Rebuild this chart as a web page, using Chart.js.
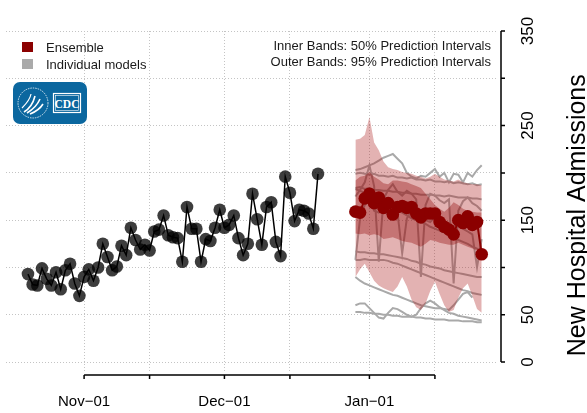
<!DOCTYPE html>
<html>
<head>
<meta charset="utf-8">
<script src="https://cdn.jsdelivr.net/npm/chart.js@4.4.0/dist/chart.umd.min.js"></script>
<style>
  html, body { margin: 0; padding: 0; background: #fff; }
  #wrap { position: relative; width: 587px; height: 413px; font-family: "Liberation Sans", Arial, sans-serif; }
  #c { position: absolute; left: 0; top: 0; }
  .key { position: absolute; left: 22px; width: 11px; height: 10px; }
  .lab { position: absolute; left: 46px; font-size: 13px; line-height: 13px; color: #1a1a1a; white-space: nowrap; }
  #note { position: absolute; right: 96px; top: 38px; font-size: 13px; line-height: 16px; color: #1a1a1a; text-align: right; white-space: nowrap; }
  #logo { position: absolute; left: 13px; top: 82px; width: 74px; height: 42px; border-radius: 7px; background: #0b679f; }
</style>
</head>
<body>
<div id="wrap">
  <canvas id="c" width="587" height="413"></canvas>
  <div class="key" style="top:42px;background:#8b0000"></div>
  <div class="lab" style="top:41px">Ensemble</div>
  <div class="key" style="top:59px;background:#aaaaaa"></div>
  <div class="lab" style="top:58px">Individual models</div>
  <div id="note">Inner Bands: 50% Prediction Intervals<br>Outer Bands: 95% Prediction Intervals</div>
  <div id="logo">
    <svg width="74" height="42" viewBox="0 0 74 42">
      <circle cx="20" cy="21" r="15" fill="none" stroke="#fff" stroke-width="0.8" stroke-dasharray="1.5 1"/>
      <path d="M11 30 C16 27 20 22 22 14" fill="none" stroke="#fff" stroke-width="1.6"/>
      <path d="M14 31 C19 28 24 24 27 17" fill="none" stroke="#fff" stroke-width="1.6"/>
      <path d="M17 32 C22 30 27 27 30 22" fill="none" stroke="#fff" stroke-width="1.6"/>
      <path d="M9 26 C13 22 17 18 18 12" fill="none" stroke="#fff" stroke-width="1.2"/>
      <rect x="40.5" y="11.5" width="27" height="19" fill="none" stroke="#fff" stroke-width="1.2"/>
      <rect x="42.5" y="13.5" width="23" height="15" fill="none" stroke="#fff" stroke-width="0.6"/>
      <text x="54" y="25.5" text-anchor="middle" fill="#fff" font-family="'Liberation Serif', serif" font-weight="bold" font-size="11.5">CDC</text>
    </svg>
  </div>
</div>
<script>
// ── DATA ──────────────────────────────────────────────────────
const obsStart = '2020-10-20';
const obsValues = [93, 82, 81, 99, 88, 81, 95, 77, 97, 104, 83, 70, 90, 98, 86, 100,
  125, 111, 97, 101, 123, 113, 142, 129, 119, 124, 118, 138, 140, 155, 134, 132,
  131, 106, 164, 141, 141, 106, 130, 128, 142, 161, 142, 145, 155, 131, 113, 125,
  178, 151, 124, 164, 169, 127, 112, 196, 179, 149, 161, 160, 157, 141, 199];

const fcStart = '2020-12-29';
const ensValues = [159, 158, 173, 178, 168, 174, 163, 168, 156, 164, 165, 163, 164, 157,
  153, 157, 157, 157, 148, 143, 140, 135, 150, 147, 154, 145, 148, 114];

const outerLo = [90, 98, 104, 95, 86, 81, 78, 76, 74, 80, 90, 80, 66, 58, 55, 62, 75, 85,
  72, 60, 53, 55, 68, 78, 83, 70, 56, 52];
const outerHi = [235, 236, 240, 259, 232, 224, 212, 206, 204, 203, 201, 200, 199, 197, 196,
  194, 196, 199, 196, 193, 192, 191, 193, 190, 189, 188, 188, 187];
const innerLo = [136, 135, 136, 134, 135, 134, 130, 131, 132, 130, 128, 127, 126, 124, 122,
  125, 129, 128, 126, 125, 124, 124, 126, 124, 122, 120, 118, 117];
const innerHi = [192, 196, 197, 201, 196, 193, 189, 188, 192, 192, 191, 190, 188, 186, 184,
  178, 172, 166, 162, 159, 163, 169, 166, 162, 160, 159, 158, 158];

// individual model trajectories (same dates as the ensemble)
const model1 = [203, 204, 206, 208, 210, 213, 216, 218, 220, 215, 210, 200, 196, 194, 197,
  196, 200, 204, 196, 200, 190, 199, 198, 190, 200, 196, 203, 208];
const model2 = [199, 200, 199, 198, 199, 197, 197, 196, 197, 195, 195, 194, 195, 193, 193,
  192, 193, 191, 191, 190, 191, 189, 190, 189, 188, 189, 187, 188];
const model3 = [184, 185, 183, 184, 182, 182, 181, 181, 180, 180, 179, 179, 178, 178, 177,
  177, 177, 176, 176, 175, 176, 175, 174, 174, 174, 173, 173, 172];
const model4 = [183, 181, 179, 176, 174, 171, 168, 166, 163, 160, 158, 155, 152, 150, 148,
  146, 143, 141, 139, 137, 134, 132, 129, 127, 125, 122, 120, 117];
const model5 = [117, 116, 116, 115, 115, 114, 114, 113, 112, 111, 110, 109, 107, 106, 104,
  103, 101, 100, 99, 97, 96, 95, 94, 93, 92, 91, 90, 90];
const model6 = [108, 108, 109, 108, 108, 108, 108, 107, 105, 104, 102, 100, 98, 96, 94,
  92, 90, 88, 86, 84, 82, 80, 78, 76, 75, 73, 72, 71];
const model7 = [90, 86, 83, 81, 79, 77, 75, 73, 71, 70, 68, 66, 64, 62, 60, 59, 58, 57,
  57, 56, 55, 60, 66, 72, 74, 68, null, null];
const model8 = [60, 62, 62, 57, 52, 47, 46, 52, 57, 56, 53, 50, 48, 50, 57, 62, 65, 62,
  58, 55, 52, 51, 49, 48, 47, 46, 45, 44];
const model9 = [53, 53, 52, 52, 51, 51, 50, 50, 49, 49, 48, 48, 48, 47, 47, 46, 46, 45,
  45, 45, 44, 44, 44, 43, 43, 43, 42, 42];
const model10 = [175, 182, 190, 208, 186, 106, 172, 182, 188, 180, 176, 181, 178, 172, 90,
  166, 178, 176, 171, 168, 172, 83, 160, 170, 174, 168, 165, 160];
const model11 = [108, 152, 166, 172, 160, 158, 162, 155, 160, 158, 115, 152, 160, 156, 152,
  150, 148, 153, 150, 146, 141, 143, 147, 141, 138, 135, 100, 130];
const models = [model1, model2, model3, model4, model5, model6, model7, model8, model9, model10, model11];

const xTickDates = ['2020-11-01', '2020-11-15', '2020-12-01', '2020-12-15', '2021-01-01', '2021-01-15'];
const xTickLabels = ['Nov\u221201', '', 'Dec\u221201', '', 'Jan\u221201', ''];
const yTicks = [0, 50, 100, 150, 200, 250, 300, 350];
const yTickLabels = ['0', '50', '', '150', '', '250', '', '350'];

// ── HELPERS ───────────────────────────────────────────────────
const DAY = 86400000;
const origin = Date.parse('2020-11-01');
const dayOf = s => (Date.parse(s) - origin) / DAY;
const series = (start, vals) => vals.map((v, i) => ({ x: dayOf(start) + i, y: v }));
const xTickDays = xTickDates.map(dayOf);
const font = '"Liberation Sans", Arial, sans-serif';

// R-style axes drawn off the plot region, plus the rotated y title
const rAxes = {
  id: 'rAxes',
  afterDraw(chart) {
    const { ctx, chartArea: a, scales: { x, y } } = chart;
    ctx.save();
    ctx.strokeStyle = '#000';
    ctx.fillStyle = '#000';
    ctx.lineWidth = 1.5;

    // bottom axis
    const ay = a.bottom + 3.5;
    const xs = xTickDays.map(d => x.getPixelForValue(d));
    ctx.beginPath();
    ctx.moveTo(xs[0], ay);
    ctx.lineTo(xs[xs.length - 1], ay);
    xs.forEach(px => { ctx.moveTo(px, ay); ctx.lineTo(px, ay + 4); });
    ctx.stroke();
    ctx.font = '15px ' + font;
    ctx.textAlign = 'center';
    ctx.textBaseline = 'alphabetic';
    xs.forEach((px, i) => { if (xTickLabels[i]) ctx.fillText(xTickLabels[i], px, a.bottom + 34); });

    // right axis
    const ax = a.right + 4;
    const ys = yTicks.map(v => y.getPixelForValue(v));
    ctx.beginPath();
    ctx.moveTo(ax, ys[0]);
    ctx.lineTo(ax, ys[ys.length - 1]);
    ys.forEach(py => { ctx.moveTo(ax, py); ctx.lineTo(ax + 4, py); });
    ctx.stroke();
    ctx.font = '17px ' + font;
    ys.forEach((py, i) => {
      if (!yTickLabels[i]) return;
      ctx.save();
      ctx.translate(ax + 32, py);
      ctx.rotate(-Math.PI / 2);
      ctx.fillText(yTickLabels[i], 0, 0);
      ctx.restore();
    });

    // axis title
    ctx.font = '25px ' + font;
    ctx.translate(585, (a.top + a.bottom) / 2 + 14);
    ctx.rotate(-Math.PI / 2);
    ctx.fillText('New Hospital Admissions', 0, 0);
    ctx.restore();
  }
};

const gridOpts = { color: '#c4c4c4', lineWidth: 1, drawTicks: false };

new Chart(document.getElementById('c'), {
  type: 'line',
  data: {
    datasets: [
      ...models.map(m => ({
        data: series(fcStart, m),
        borderColor: '#a9a9a9',
        borderWidth: 2,
        pointRadius: 0,
        fill: false,
        order: 5
      })),
      { data: series(fcStart, outerLo), borderWidth: 0, pointRadius: 0, fill: false, order: 4 },
      { data: series(fcStart, outerHi), borderWidth: 0, pointRadius: 0, fill: '-1',
        backgroundColor: 'rgba(170,20,20,0.33)', order: 4 },
      { data: series(fcStart, innerLo), borderWidth: 0, pointRadius: 0, fill: false, order: 3 },
      { data: series(fcStart, innerHi), borderWidth: 0, pointRadius: 0, fill: '-1',
        backgroundColor: 'rgba(139,0,0,0.35)', order: 3 },
      { data: series(obsStart, obsValues), borderColor: '#000', borderWidth: 1.5,
        pointRadius: 6.3, pointBackgroundColor: 'rgba(0,0,0,0.76)', pointBorderWidth: 0, order: 1 },
      { data: series(fcStart, ensValues), borderColor: '#8b0000', borderWidth: 2,
        pointRadius: 6.3, pointBackgroundColor: '#8b0000', pointBorderWidth: 0, order: 0 }
    ]
  },
  options: {
    responsive: false,
    animation: false,
    devicePixelRatio: 1,
    layout: { padding: { left: 5, right: 90, top: 31, bottom: 41.5 } },
    elements: { line: { tension: 0 } },
    plugins: { legend: { display: false }, tooltip: { enabled: false } },
    scales: {
      x: {
        type: 'linear',
        min: -16.63, max: 88.27,
        afterBuildTicks: s => { s.ticks = xTickDays.map(v => ({ value: v })); },
        ticks: { display: false },
        grid: gridOpts,
        border: { display: false, dash: [1, 2] }
      },
      y: {
        min: -10, max: 350,
        afterBuildTicks: s => { s.ticks = yTicks.map(v => ({ value: v })); },
        ticks: { display: false },
        grid: gridOpts,
        border: { display: false, dash: [1, 2] }
      }
    }
  },
  plugins: [rAxes]
});
</script>
</body>
</html>
